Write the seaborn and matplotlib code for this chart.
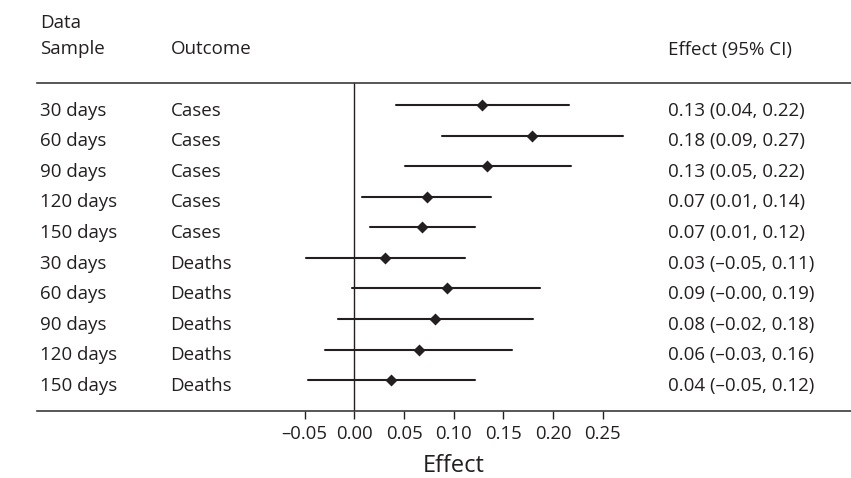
import matplotlib
matplotlib.use('Agg')
import matplotlib.pyplot as plt
import matplotlib.transforms as mtransforms
import pandas as pd
import seaborn as sns
import numpy as np

# datos del forest plot
sample = ["30 days", "60 days", "90 days", "120 days", "150 days",
          "30 days", "60 days", "90 days", "120 days", "150 days"]
outcome = ["Cases", "Cases", "Cases", "Cases", "Cases",
           "Deaths", "Deaths", "Deaths", "Deaths", "Deaths"]
effect = [0.129, 0.179, 0.134, 0.073, 0.068, 0.031, 0.093, 0.081, 0.065, 0.037]
lower = [0.042, 0.088, 0.051, 0.008, 0.016, -0.049, -0.002, -0.016, -0.030, -0.047]
upper = [0.216, 0.270, 0.218, 0.138, 0.121, 0.111, 0.187, 0.180, 0.159, 0.121]
ci_labels = ["0.13 (0.04, 0.22)", "0.18 (0.09, 0.27)", "0.13 (0.05, 0.22)",
             "0.07 (0.01, 0.14)", "0.07 (0.01, 0.12)", "0.03 (\u20130.05, 0.11)",
             "0.09 (\u20130.00, 0.19)", "0.08 (\u20130.02, 0.18)",
             "0.06 (\u20130.03, 0.16)", "0.04 (\u20130.05, 0.12)"]
x_ticks = [-0.05, 0.00, 0.05, 0.10, 0.15, 0.20, 0.25]

ink = "#231f20"

sns.set_theme(style="white")
plt.rcParams['font.family'] = ['Open Sans', 'DejaVu Sans']

# formato largo: lo, estimacion, hi por fila -> mediana = estimacion, pi 100 = IC
rows = [f"{s} {o}" for s, o in zip(sample, outcome)]
df = pd.DataFrame({
    "row": np.repeat(rows, 3),
    "value": np.ravel(np.column_stack([lower, effect, upper])),
})

fig = plt.figure(figsize=(8.51, 4.78), dpi=100)
W, H = 851, 478
ax_left, ax_right, ax_top, ax_bottom = 37, 851, 82.7, 410.7
ax = fig.add_axes([ax_left / W, 1 - ax_bottom / H,
                   (ax_right - ax_left) / W, (ax_bottom - ax_top) / H])

sns.pointplot(data=df, x="value", y="row", order=rows, orient="h",
              estimator="median", errorbar=("pi", 100), linestyle="none",
              marker="D", markersize=3.6, color=ink, capsize=0,
              err_kws={"linewidth": 1.5}, ax=ax)

ax.axvline(0, color=ink, linewidth=1.0, zorder=0)

ax.set_xlim(-0.3195, 0.5)
ax.set_ylim(10.0, -0.73)
ax.set_yticks([])
ax.set_ylabel("")
ax.set_xticks(x_ticks)
ax.set_xticklabels([f"{t:.2f}".replace("-", "\u2013") for t in x_ticks])
ax.tick_params(axis="x", bottom=True, length=5.5, width=1.0, color=ink,
               labelsize=13.3, labelcolor=ink, pad=5)

for side in ["left", "right"]:
    ax.spines[side].set_visible(False)
for side in ["top", "bottom"]:
    ax.spines[side].set_color("#3a3a3a")
    ax.spines[side].set_linewidth(1.2)

ax.set_xlabel("Effect", fontsize=17, color=ink)
ax.xaxis.label.set_verticalalignment("baseline")
ax.xaxis.set_label_coords((453.3 - ax_left) / (ax_right - ax_left),
                          (ax_bottom - 472.5) / (ax_bottom - ax_top))

# columnas de texto
def axx(px):
    return (px - ax_left) / (ax_right - ax_left)

trans = mtransforms.blended_transform_factory(ax.transAxes, ax.transData)
for i in range(len(rows)):
    y = i + 0.35
    ax.text(axx(40.5), y, sample[i], transform=trans, fontsize=13.5,
            color=ink, va="baseline", ha="left")
    ax.text(axx(170.5), y, outcome[i], transform=trans, fontsize=13.5,
            color=ink, va="baseline", ha="left")
    ax.text(axx(667.5), y, ci_labels[i], transform=trans, fontsize=13.5,
            color=ink, va="baseline", ha="left")

# encabezados
fig.text(40.5 / W, 1 - 28.3 / H, "Data", fontsize=13.5, color=ink, va="baseline")
fig.text(40.5 / W, 1 - 54.5 / H, "Sample", fontsize=13.5, color=ink, va="baseline")
fig.text(170.5 / W, 1 - 54.5 / H, "Outcome", fontsize=13.5, color=ink, va="baseline")
fig.text(667.5 / W, 1 - 54.5 / H, "Effect (95% CI)", fontsize=13.5, color=ink,
         va="baseline")

plt.savefig("out.png", dpi=100)
plt.close()
